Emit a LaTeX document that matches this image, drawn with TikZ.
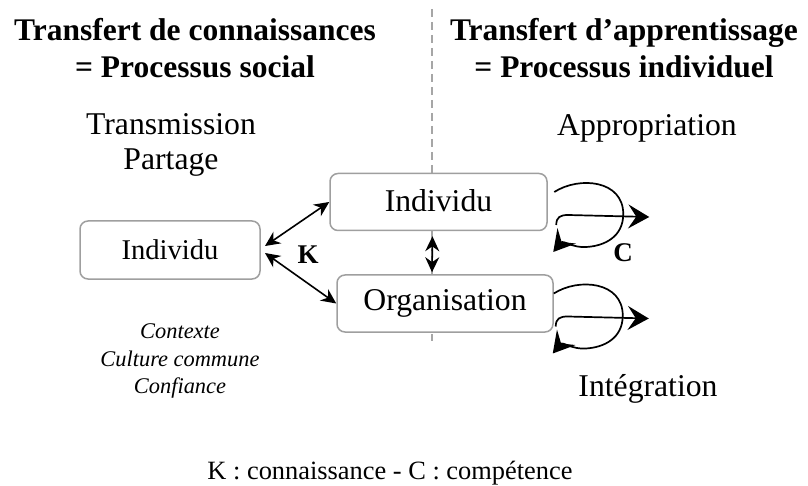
\documentclass[tikz,border=0pt]{standalone}
\usepackage{fontspec}
\setmainfont{Liberation Serif}
\usetikzlibrary{arrows.meta, positioning, calc}

\begin{document}
\begin{tikzpicture}[x=1pt, y=-1pt,
		boite/.style={draw=gray!75, line width=1.5pt, rounded corners=8pt, fill=white, inner sep=0pt},
		titre/.style={font=\fontsize{31.5}{37}\selectfont\bfseries, align=center, inner sep=0pt},
		texte/.style={font=\fontsize{31.7}{35}\selectfont, align=center, inner sep=0pt},
		petit/.style={font=\fontsize{28.6}{34}\selectfont, align=center, inner sep=0pt},
		note/.style={font=\fontsize{22.4}{27.5}\selectfont\itshape, align=center, inner sep=0pt},
		lettre/.style={font=\fontsize{27}{30}\selectfont\bfseries, inner sep=0pt},
		lien/.style={line width=1.6pt, {Stealth[length=15pt,width=14pt]}-{Stealth[length=15pt,width=14pt]}},
		boucle/.style={line width=1.7pt, -{Stealth[length=21pt,width=24pt,inset=8pt]}}]
		\useasboundingbox (0,0) rectangle (808,486);
		% separation
		\coordinate (haut) at (432,9);
		\coordinate (bas) at (432,341);
		\draw[gray!70, line width=1.5pt, dash pattern=on 8pt off 5pt] (haut) -- (bas);
		% titres
		\node[titre] (tg) at (195,48.5) {Transfert de connaissances\\= Processus social};
		\node[titre] (td) at (624,48.5) {Transfert d’apprentissage\\= Processus individuel};
		\node[texte] (trans) at (171,145) {Transmission\\Partage};
		\node[texte] (appr) at (647,128) {Appropriation};
		% boites
		\node[boite, minimum width=180pt, minimum height=58pt, petit] (ind1) at (170,250) {Individu};
		\node[boite, minimum width=217pt, minimum height=57pt, texte, text depth=2pt] (ind2) at (438.5,202) {Individu};
		\node[boite, minimum width=216pt, minimum height=57pt, texte] (org) at (445,303.5) {Organisation};
		\node[note] (ctx) at (180,361) {Contexte\\Culture commune\\Confiance};
		\node[texte] (integ) at (648,389) {Intégration};
		\node[lettre] (k) at (308,255) {K};
		\node[lettre] (c) at (623,253) {C};
		\node[font=\fontsize{26.4}{30}\selectfont, inner sep=0pt] (leg) at (390,473) {K : connaissance - C : compétence};
		% liens
		\coordinate (k1) at (265,246);
		\coordinate (k2) at (265,253);
		\draw[lien] (k1) -- (ind2.west);
		\draw[lien] (k2) -- (org.west);
		\draw[lien, shorten <=5pt, shorten >=2pt] ([xshift=-6pt]ind2.south) -- ([xshift=-13pt]org.north);
		% boucles
		\foreach \b/\dx in {ind2/6.5, org/0}{
			\begin{scope}[shift={($(\b.east)+(\dx,0)$)}]
				\draw[boucle] (0,-10) .. controls (25,-26) and (69,-22) .. (69,12)
					.. controls (69,35) and (50,44) .. (32,45)
					.. controls (18,46) and (9,38) .. (-1,50);
				\draw[boucle] (2,23) .. controls (2,15) and (6,13) .. (14,13) -- (95,15);
			\end{scope}
		}
	\end{tikzpicture}
\end{document}
